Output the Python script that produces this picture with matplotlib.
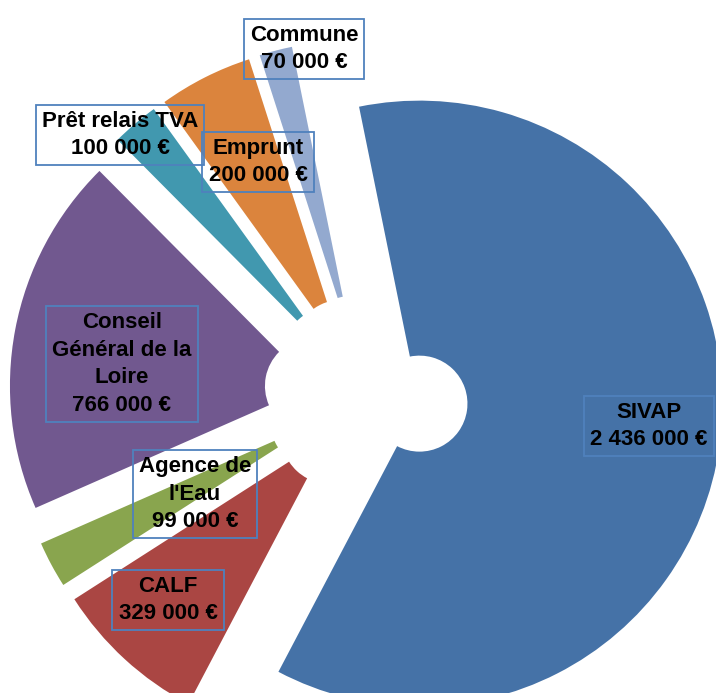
import matplotlib
matplotlib.use("Agg")
import matplotlib.pyplot as plt
from matplotlib import font_manager

# Données du plan de financement
categories = ["SIVAP", "CALF", "Agence de\nl'Eau", "Conseil\nGénéral de la\nLoire",
              "Prêt relais TVA", "Emprunt", "Commune"]
montants = [2436000, 329000, 99000, 766000, 100000, 200000, 70000]
couleurs = ["#4572A7", "#AA4643", "#89A54E", "#71588F", "#4198AF", "#DB843D", "#93A9CF"]

# centre des boîtes d'étiquettes (pixels)
pos_etiquettes = [(649, 426), (168, 600), (195, 494), (122, 364),
                  (120, 135), (258, 162), (304, 49)]

W, H = 716, 693
cx, cy, R = 366, 396, 303.0

noms = {f.name for f in font_manager.fontManager.ttflist}
if "Liberation Sans Narrow" in noms:
    police, taille, interligne = "Liberation Sans Narrow", 19, 1.15
else:
    police, taille, interligne = "Liberation Sans", 16, 1.4

fig = plt.figure(figsize=(W / 100, H / 100), dpi=100)
ax = fig.add_axes([0, 0, 1, 1])

ax.pie(montants, colors=couleurs, startangle=101.5, counterclock=False,
       explode=[54 / R] * len(montants), radius=1.0,
       wedgeprops=dict(width=1 - 48 / R, linewidth=0))

ax.set_xlim(-cx / R, (W - cx) / R)
ax.set_ylim(-(H - cy) / R, cy / R)
ax.set_aspect("auto")
ax.axis("off")

for nom, val, (px, py) in zip(categories, montants, pos_etiquettes):
    texte = nom + "\n" + f"{val:,}".replace(",", " ") + " €"
    fig.text(px / W, 1 - py / H, texte, ha="center", va="center",
             multialignment="center", fontsize=taille, fontweight="bold",
             family=police, color="black", linespacing=interligne,
             bbox=dict(boxstyle="square,pad=0.28", facecolor="none",
                       edgecolor="#4F81BD", linewidth=1.3))

fig.savefig("out.png", dpi=100)
